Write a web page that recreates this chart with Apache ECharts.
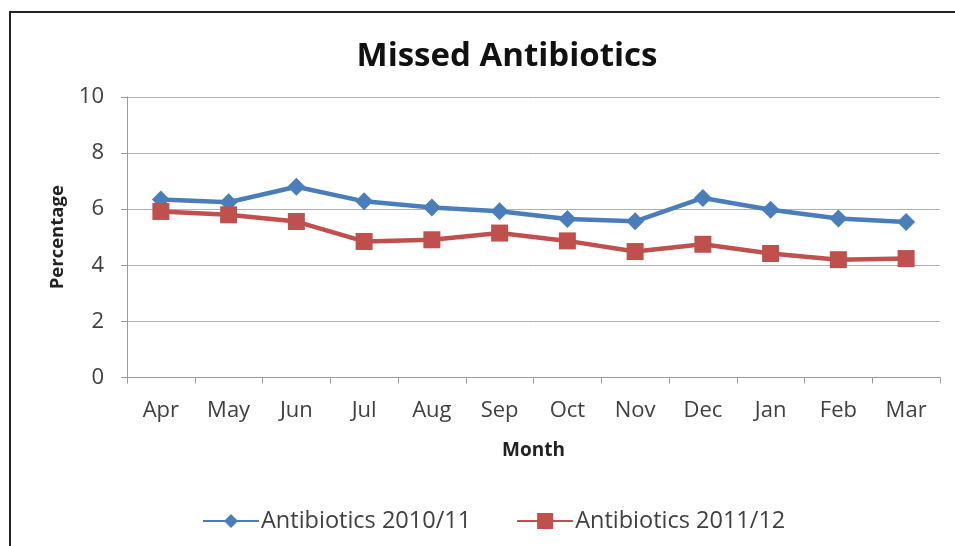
<!DOCTYPE html>
<html>
<head>
<meta charset="utf-8">
<script src="https://cdn.jsdelivr.net/npm/echarts@6/dist/echarts.min.js"></script>
<style>
  html, body { margin: 0; padding: 0; background: #fff; overflow: hidden; }
  #chart { width: 955px; height: 546px; }
</style>
</head>
<body>
<div id="chart"></div>
<script>
// Monthly missed-antibiotic percentages for two financial years
const months = ['Apr', 'May', 'Jun', 'Jul', 'Aug', 'Sep', 'Oct', 'Nov', 'Dec', 'Jan', 'Feb', 'Mar'];
const antibiotics2010 = [6.35, 6.25, 6.8, 6.28, 6.06, 5.93, 5.65, 5.57, 6.4, 5.98, 5.67, 5.54];
const antibiotics2011 = [5.92, 5.8, 5.56, 4.85, 4.91, 5.15, 4.87, 4.49, 4.75, 4.42, 4.2, 4.24];
const yTicks = [0, 2, 4, 6, 8, 10];

const FONT = '"Open Sans", "Liberation Sans", sans-serif';
const BLUE = '#4A7EBB';
const RED = '#C0504D';

const chart = echarts.init(document.getElementById('chart'));
chart.setOption({
  backgroundColor: '#ffffff',
  animation: false,
  title: {
    text: 'Missed Antibiotics',
    left: 502,
    textAlign: 'center',
    top: 35,
    textStyle: { fontFamily: FONT, fontSize: 33, fontWeight: 'bold', color: '#111' }
  },
  graphic: [
    // frame: top and left edges only
    { type: 'polyline', shape: { points: [[10, 546], [10, 12], [955, 12]] }, style: { stroke: '#222', lineWidth: 2, fill: null } }
  ],
  legend: {
    top: 504,
    left: 198,
    itemGap: 46,
    itemWidth: 56,
    itemHeight: 18,
    textStyle: { fontFamily: FONT, fontSize: 23.5, color: '#404040', padding: [0, 0, 0, -3] },
    data: [
      { name: 'Antibiotics 2010/11', icon: 'path://M0,8 L22,8 L28,2 L34,8 L56,8 L56,10 L34,10 L28,16 L22,10 L0,10 Z' },
      { name: 'Antibiotics 2011/12', icon: 'path://M0,8 L20,8 L20,1 L36,1 L36,8 L56,8 L56,10 L36,10 L36,17 L20,17 L20,10 L0,10 Z' }
    ]
  },
  grid: { left: 127, right: 15, top: 97, bottom: 168.5 },
  xAxis: {
    type: 'category',
    data: months,
    boundaryGap: true,
    name: 'Month',
    nameLocation: 'middle',
    nameGap: 64,
    nameTextStyle: { fontFamily: FONT, fontSize: 19, fontWeight: 'bold', color: '#222' },
    axisLine: { lineStyle: { color: '#9a9a9a', width: 1 } },
    axisTick: { show: true, length: 6, alignWithLabel: false, lineStyle: { color: '#9a9a9a' } },
    axisLabel: { fontFamily: FONT, fontSize: 22, color: '#404040', margin: 22 }
  },
  yAxis: {
    type: 'value',
    min: 0,
    max: 10,
    interval: 2,
    name: 'Percentage',
    nameLocation: 'middle',
    nameGap: 60,
    nameTextStyle: { fontFamily: FONT, fontSize: 18.5, fontWeight: 'bold', color: '#222' },
    axisLine: { show: true, lineStyle: { color: '#9a9a9a', width: 1 } },
    axisTick: { show: true, length: 6, inside: false, lineStyle: { color: '#9a9a9a' } },
    axisLabel: {
      fontFamily: FONT, fontSize: 22, color: '#404040', margin: 23,
      formatter: v => (yTicks.includes(v) ? String(v) : '')
    },
    splitLine: { show: true, lineStyle: { color: '#b0b0b0', width: 1 } }
  },
  series: [
    {
      name: 'Antibiotics 2010/11',
      type: 'line',
      data: antibiotics2010,
      symbol: 'diamond',
      symbolSize: 18,
      color: BLUE,
      lineStyle: { width: 4.5, color: BLUE },
      itemStyle: { color: BLUE }
    },
    {
      name: 'Antibiotics 2011/12',
      type: 'line',
      data: antibiotics2011,
      symbol: 'rect',
      symbolSize: 17,
      color: RED,
      lineStyle: { width: 4.5, color: RED },
      itemStyle: { color: RED }
    }
  ]
});
</script>
</body>
</html>
